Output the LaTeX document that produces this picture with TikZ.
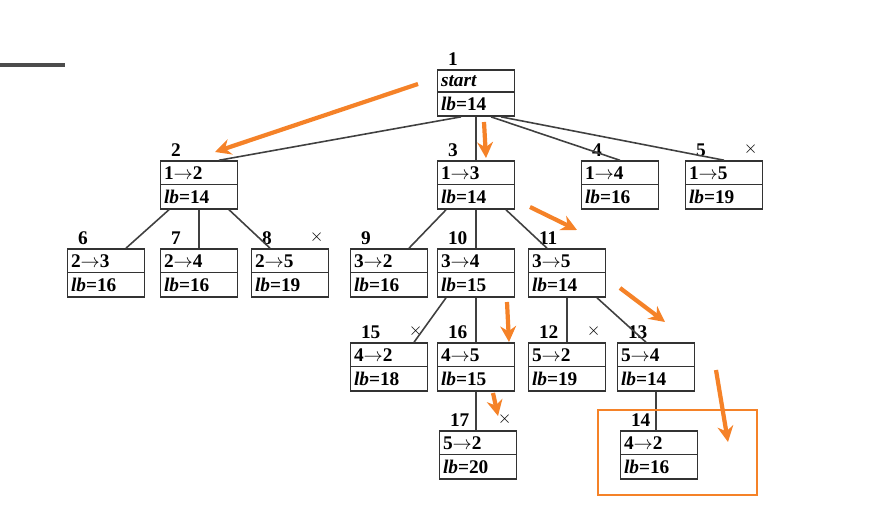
\documentclass[tikz,border=0pt]{standalone}
\usepackage{fontspec}
\setmainfont{Liberation Serif}
\usetikzlibrary{shapes.multipart,arrows.meta}
\definecolor{hiorange}{RGB}{245,130,40}
\tikzset{
  bnode/.style={rectangle split, rectangle split parts=2, draw=black!80, line width=0.9pt,
    text width=1.4cm, inner xsep=2pt, inner ysep=2.6pt, font=\bfseries\fontsize{11}{12}\selectfont, align=left},
  num/.style={font=\bfseries\fontsize{11}{12}\selectfont, inner sep=0pt},
  cut/.style={font=\fontsize{10}{10}\selectfont, inner sep=0pt},
  edge/.style={draw=black!75, line width=0.9pt},
  hint/.style={draw=hiorange, line width=2.4pt, -{Stealth[length=9pt,width=9pt]}}
}
\newcommand{\lbv}[1]{\textit{lb}=#1}
\begin{document}
\begin{tikzpicture}[x=0.02cm,y=-0.02cm]
  \useasboundingbox (0,0) rectangle (869,506);
  \fill[black!70] (0,63) rectangle (65,67);

  % search tree nodes
  \node[bnode] (n1) at (476,93) {\textit{start}\nodepart{two}\lbv{14}};
  \node[bnode] (n2) at (199,185) {1$\rightarrow$2\nodepart{two}\lbv{14}};
  \node[bnode] (n3) at (476,185) {1$\rightarrow$3\nodepart{two}\lbv{14}};
  \node[bnode] (n4) at (620,185) {1$\rightarrow$4\nodepart{two}\lbv{16}};
  \node[bnode] (n5) at (724,185) {1$\rightarrow$5\nodepart{two}\lbv{19}};
  \node[bnode] (n6) at (106,273) {2$\rightarrow$3\nodepart{two}\lbv{16}};
  \node[bnode] (n7) at (199,273) {2$\rightarrow$4\nodepart{two}\lbv{16}};
  \node[bnode] (n8) at (290,273) {2$\rightarrow$5\nodepart{two}\lbv{19}};
  \node[bnode] (n9) at (389,273) {3$\rightarrow$2\nodepart{two}\lbv{16}};
  \node[bnode] (n10) at (476,273) {3$\rightarrow$4\nodepart{two}\lbv{15}};
  \node[bnode] (n11) at (567,273) {3$\rightarrow$5\nodepart{two}\lbv{14}};
  \node[bnode] (n15) at (389,367) {4$\rightarrow$2\nodepart{two}\lbv{18}};
  \node[bnode] (n16) at (476,367) {4$\rightarrow$5\nodepart{two}\lbv{15}};
  \node[bnode] (n12) at (567,367) {5$\rightarrow$2\nodepart{two}\lbv{19}};
  \node[bnode] (n13) at (656,367) {5$\rightarrow$4\nodepart{two}\lbv{14}};
  \node[bnode] (n17) at (478,455) {5$\rightarrow$2\nodepart{two}\lbv{20}};
  \node[bnode] (n14) at (659,455) {4$\rightarrow$2\nodepart{two}\lbv{16}};

  % node numbers
  \foreach \n in {1,...,17} {
    \node[num, anchor=south west] (l\n) at ([xshift=0.22cm,yshift=0.07cm]n\n.north west) {\n};
  }
  % pruned marks
  \foreach \n in {5,8,15,12,17} {
    \node[cut] (x\n) at ([xshift=-0.25cm,yshift=0.22cm]n\n.north east) {$\times$};
  }

  % edges
  \draw[edge] ([xshift=-0.3cm]n1.south) -- ([xshift=0.4cm]n2.north);
  \draw[edge] (n1.south) -- (n3.north);
  \draw[edge] ([xshift=0.3cm]n1.south) -- (n4.north);
  \draw[edge] ([xshift=0.5cm]n1.south) -- (n5.north);
  \draw[edge] ([xshift=-0.6cm]n2.south) -- ([xshift=0.4cm]n6.north);
  \draw[edge] (n2.south) -- (n7.north);
  \draw[edge] ([xshift=0.6cm]n2.south) -- ([xshift=-0.4cm]n8.north);
  \draw[edge] ([xshift=-0.6cm]n3.south) -- ([xshift=0.4cm]n9.north);
  \draw[edge] (n3.south) -- (n10.north);
  \draw[edge] ([xshift=0.6cm]n3.south) -- ([xshift=-0.4cm]n11.north);
  \draw[edge] ([xshift=-0.6cm]n10.south) -- ([xshift=0.5cm]n15.north);
  \draw[edge] (n10.south) -- (n16.north);
  \draw[edge] (n11.south) -- (n12.north);
  \draw[edge] ([xshift=0.6cm]n11.south) -- ([xshift=-0.2cm]n13.north);
  \draw[edge] (n16.south) -- ([xshift=-0.04cm]n17.north);
  \draw[edge] (n13.south) -- ([xshift=-0.06cm]n14.north);

  % hints
  \draw[hint] (418,84) -- (215,152);
  \draw[hint] (484,122) -- (486,158);
  \draw[hint] (530,207) -- (577,230);
  \draw[hint] (620,288) -- (665,322);
  \draw[hint] (507,302) -- (509,342);
  \draw[hint] (493,393) -- (498,416);
  \draw[hint] (716,370) -- (728,442);
  \draw[hiorange, line width=1.5pt] (598,410) rectangle (757,495);
\end{tikzpicture}
\end{document}
